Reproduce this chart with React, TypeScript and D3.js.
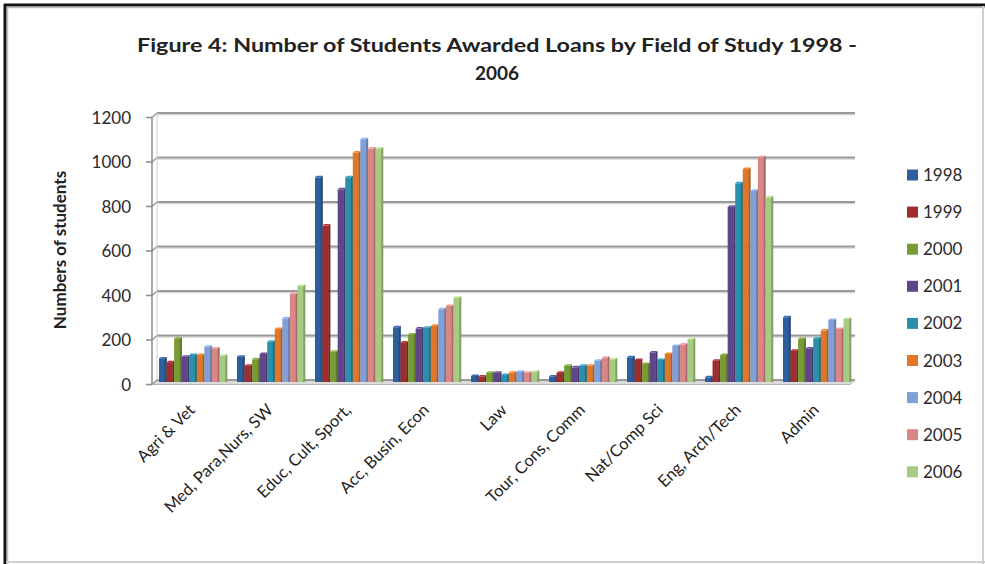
import React from "react";
import * as d3 from "d3";

const categories = [
  "Agri & Vet",
  "Med, Para,Nurs, SW",
  "Educ, Cult, Sport,",
  "Acc, Busin, Econ",
  "Law",
  "Tour, Cons, Comm",
  "Nat/Comp Sci",
  "Eng, Arch/Tech",
  "Admin",
];
const years = ["1998", "1999", "2000", "2001", "2002", "2003", "2004", "2005", "2006"];
const y1998 = [97, 105, 911, 237, 18, 16, 102, 12, 282];
const y1999 = [80, 64, 694, 169, 16, 33, 90, 87, 132];
const y2000 = [187, 93, 127, 205, 33, 64, 72, 112, 184];
const y2001 = [105, 117, 857, 231, 33, 57, 124, 779, 142];
const y2002 = [112, 172, 911, 235, 22, 64, 90, 884, 187];
const y2003 = [112, 229, 1022, 244, 33, 64, 117, 948, 222];
const y2004 = [150, 277, 1082, 318, 37, 87, 153, 851, 270];
const y2005 = [142, 386, 1040, 333, 33, 100, 160, 1001, 229];
const y2006 = [109, 422, 1040, 370, 37, 93, 183, 821, 274];
const series = [y1998, y1999, y2000, y2001, y2002, y2003, y2004, y2005, y2006];
const colors = ["#2F5E9E", "#A12C2C", "#789B36", "#5F4688", "#2B8FAB", "#E07627", "#7F9FD6", "#D88686", "#A8CB84"];
const yTicks = [0, 200, 400, 600, 800, 1000, 1200];

const W = 985;
const H = 564;
const FONT = "Lato, 'Open Sans', sans-serif";

export default function App() {
  const x = d3.scaleBand<string>().domain(categories).range([154, 856]).paddingInner(0.128).paddingOuter(0.064);
  const xs = d3.scaleBand<string>().domain(years).range([0, x.bandwidth()]);
  const y = d3.scaleLinear().domain([0, 1200]).range([380, 113]);
  const dy = 4.5;
  const bw = xs.bandwidth();

  return (
    <svg width={W} height={H} style={{ position: "absolute", left: 0, top: 0, background: "#fff" }} fontFamily={FONT}>
      {/* border */}
      <line x1={4} y1={5} x2={W} y2={5} stroke="#111" strokeWidth={3} />
      <line x1={5} y1={4} x2={5} y2={H} stroke="#111" strokeWidth={3} />
      <line x1={7} y1={7.5} x2={W} y2={7.5} stroke="#bbb" strokeWidth={1.5} />
      <line x1={7.5} y1={7} x2={7.5} y2={H} stroke="#bbb" strokeWidth={1.5} />
      <line x1={983} y1={6} x2={983} y2={H} stroke="#d0d0d0" strokeWidth={2} />
      <line x1={6} y1={562} x2={W} y2={562} stroke="#d0d0d0" strokeWidth={2} />

      {/* title */}
      <text x={497} y={52} textAnchor="middle" fontWeight="bold" fontSize={19} fill="#222" textLength={720} lengthAdjust="spacingAndGlyphs">
        Figure 4: Number of Students Awarded Loans by Field of Study 1998 -
      </text>
      <text x={497} y={80} textAnchor="middle" fontWeight="bold" fontSize={19} fill="#222">
        2006
      </text>

      {/* floor */}
      <path
        d={`M${152},${y(0) + dy} L${850},${y(0) + dy} L${855},${y(0)} L${157},${y(0)} Z`}
        fill="#dcdcdc"
        stroke="#b5b5b5"
        strokeWidth={1}
      />

      {/* gridlines */}
      {yTicks.map((t) => (
        <g key={t}>
          <line x1={157} x2={855} y1={y(t) + 1.5} y2={y(t) + 1.5} stroke="#d6d6d6" strokeWidth={1.5} />
          <line x1={157} x2={855} y1={y(t)} y2={y(t)} stroke="#9a9a9a" strokeWidth={2} />
          <line x1={152} y1={y(t) + dy} x2={157} y2={y(t)} stroke="#9a9a9a" strokeWidth={1.5} />
          <line x1={146} y1={y(t) + dy} x2={152} y2={y(t) + dy} stroke="#8a8a8a" strokeWidth={1.5} />
          <text x={131} y={y(t) + dy + 6} textAnchor="end" fontSize={17} fill="#2a2a2a">
            {t}
          </text>
        </g>
      ))}
      <line x1={152} x2={152} y1={y(1200) + dy} y2={y(0) + dy} stroke="#8a8a8a" strokeWidth={1.5} />
      <line x1={157} x2={157} y1={y(1200)} y2={y(0)} stroke="#cfcfcf" strokeWidth={1} />

      {/* bars */}
      {categories.map((c, ci) =>
        years.map((yr, si) => {
          const v = series[si][ci];
          const x0 = (x(c) as number) + (xs(yr) as number);
          const top = y(v);
          const base = y(0) + 2;
          const col = d3.color(colors[si])!;
          const side = col.darker(0.7).toString();
          const topC = col.brighter(0.4).toString();
          const fw = bw - 1.8;
          return (
            <g key={c + yr}>
              <rect x={x0} y={top} width={fw + 0.3} height={Math.max(0, base - top)} fill={colors[si]} />
              <path d={`M${x0 + fw},${top} L${x0 + bw + 0.3},${top - 1.5} L${x0 + bw + 0.3},${base} L${x0 + fw},${base} Z`} fill={side} />
              <path d={`M${x0},${top} L${x0 + 1.8},${top - 1.5} L${x0 + bw + 0.3},${top - 1.5} L${x0 + fw},${top} Z`} fill={topC} />
            </g>
          );
        })
      )}

      {/* y label */}
      <text transform={`translate(66,250) rotate(-90)`} textAnchor="middle" fontWeight="bold" fontSize={17} fill="#222">
        Numbers of students
      </text>

      {/* x labels */}
      {categories.map((c) => {
        const cx = (x(c) as number) + x.bandwidth() / 2;
        return (
          <text key={c} transform={`translate(${cx + 3},${411}) rotate(-45)`} textAnchor="end" fontSize={16.5} fill="#222">
            {c}
          </text>
        );
      })}

      {/* legend */}
      {years.map((yr, i) => {
        const ly = 175 + i * 37.1;
        return (
          <g key={yr}>
            <rect x={907} y={ly - 5.5} width={11} height={11} fill={colors[i]} />
            <text x={923} y={ly + 6} fontSize={17} fill="#2a2a2a">
              {yr}
            </text>
          </g>
        );
      })}
    </svg>
  );
}
